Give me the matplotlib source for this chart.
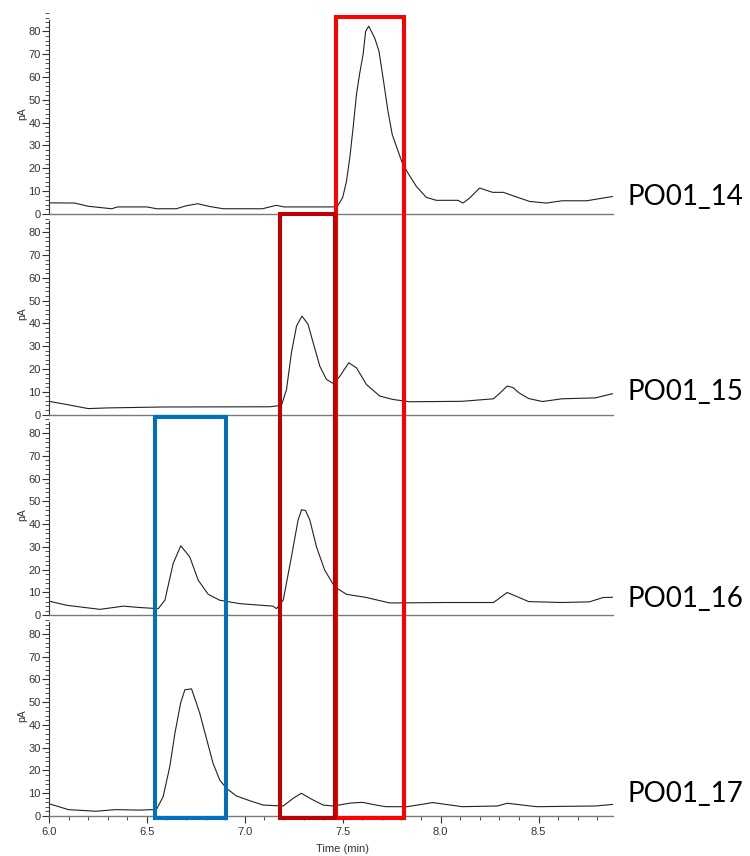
import matplotlib.pyplot as plt
from matplotlib.patches import Rectangle
from matplotlib.ticker import MultipleLocator

# chromatogram traces (time in min, signal in pA)
t14 = [6.0, 6.13, 6.2, 6.32, 6.35, 6.5, 6.55, 6.65, 6.7, 6.76, 6.82, 6.89, 7.09, 7.16,
       7.2, 7.45, 7.476, 7.50, 7.519, 7.536, 7.553, 7.57, 7.587, 7.604, 7.617, 7.633,
       7.663, 7.685, 7.706, 7.731, 7.753, 7.774, 7.804, 7.833, 7.876, 7.927, 7.978,
       8.088, 8.114, 8.148, 8.199, 8.265, 8.32, 8.4, 8.455, 8.54, 8.62, 8.745, 8.88]
s14 = [4.8, 4.7, 3.3, 2.2, 3.0, 3.0, 2.2, 2.2, 3.5, 4.4, 3.2, 2.2, 2.2, 3.7,
       3.0, 3.0, 3.7, 7.2, 14.2, 24.5, 37.7, 52.3, 61.8, 69.9, 80.1, 82.3,
       77.2, 71.4, 59.6, 45, 34.7, 29.6, 22.3, 17.9, 12, 7.2, 5.9,
       5.9, 4.7, 6.9, 11.3, 9.4, 9.4, 7.0, 5.4, 4.7, 5.7, 5.7, 7.6]

t15 = [6.0, 6.09, 6.2, 6.3, 6.58, 7.128, 7.187, 7.213, 7.238, 7.264, 7.292, 7.323,
       7.349, 7.383, 7.417, 7.454, 7.485, 7.531, 7.57, 7.621, 7.689, 7.757, 7.842,
       8.11, 8.27, 8.31, 8.34, 8.37, 8.4, 8.45, 8.52, 8.62, 8.79, 8.88]
s15 = [5.8, 4.4, 2.6, 2.9, 3.3, 3.4, 4.0, 11, 27.1, 38.8, 43.2, 39.6,
       31.5, 21.2, 15.4, 13.5, 16.8, 22.7, 20.5, 13.2, 8.1, 6.6, 5.6,
       5.8, 6.9, 10, 12.5, 11.8, 9.5, 7.0, 5.7, 6.9, 7.3, 9.2]

t16 = [6.0, 6.09, 6.26, 6.38, 6.464, 6.558, 6.592, 6.634, 6.673, 6.719, 6.762, 6.813,
       6.872, 6.974, 7.144, 7.162, 7.196, 7.238, 7.272, 7.29, 7.31, 7.332, 7.366,
       7.408, 7.459, 7.519, 7.621, 7.74, 8.03, 8.27, 8.34, 8.45, 8.62, 8.76, 8.83, 8.88]
s16 = [6.2, 4.4, 2.6, 4.0, 3.4, 2.9, 6.6, 22.7, 30.5, 25.6, 15.4, 9.2,
       6.6, 5.1, 4.0, 2.9, 6.6, 25.6, 41.8, 46.3, 46.0, 41.8, 30,
       19.8, 12.5, 9.2, 7.8, 5.4, 5.6, 5.6, 10, 6.0, 5.6, 5.9, 7.8, 7.9]

t17 = [6.0, 6.1, 6.24, 6.34, 6.464, 6.549, 6.583, 6.617, 6.643, 6.672, 6.694, 6.728,
       6.753, 6.770, 6.804, 6.838, 6.872, 6.906, 6.957, 7.026, 7.094, 7.196, 7.247,
       7.289, 7.332, 7.4, 7.451, 7.54, 7.6, 7.69, 7.72, 7.83, 7.96, 8.11, 8.29, 8.34,
       8.49, 8.79, 8.88]
s17 = [5.4, 2.8, 2.1, 2.8, 2.6, 2.9, 8.5, 21.7, 36.3, 49.5, 55.4, 55.8,
       49.5, 45.1, 34.1, 23.1, 15.8, 12.2, 8.8, 6.7, 4.8, 4.4, 7.8,
       10, 7.8, 4.8, 4.4, 5.7, 6.0, 4.5, 4.1, 4.1, 5.9, 4.1, 4.4, 5.6,
       4.1, 4.4, 5.1]

times = [t14, t15, t16, t17]
signals = [s14, s15, s16, s17]
names = ["PO01_14", "PO01_15", "PO01_16", "PO01_17"]
name_y = [7.5, 10, 7, 9.7]

# highlight boxes: start/end time, panel + pA value where the top edge sits, colour
box_t0 = [7.465, 7.180, 6.539]
box_t1 = [7.815, 7.461, 6.903]
box_top_panel = [0, 0, 1]
box_top_val = [86.2, 0.0, -1.0]
box_colors = ["#FF0000", "#C00000", "#0070C0"]

tick_font = "Liberation Sans"

fig, axes = plt.subplots(4, 1, sharex=True, figsize=(7.5, 8.56), dpi=100)
fig.subplots_adjust(left=0.0653, right=0.8173, bottom=0.0467, top=0.9848, hspace=0)

for i, ax in enumerate(axes):
    ax.patch.set_visible(False)
    ax.plot(times[i], signals[i], color="#222222", lw=0.8)
    ax.set_xlim(6.0, 8.88)
    ax.set_ylim(0, 88.1)
    ax.spines["top"].set_visible(False)
    ax.spines["right"].set_visible(False)
    ax.spines["left"].set_bounds(0, 85)
    ax.spines["left"].set_color("#333333")
    ax.spines["bottom"].set_color("#7a7a7a")
    ax.spines["left"].set_linewidth(0.8)
    ax.spines["bottom"].set_linewidth(1.0)
    ax.yaxis.set_minor_locator(MultipleLocator(2))
    ax.set_yticks(range(0, 90, 10))
    ax.tick_params(axis="y", which="major", length=5, width=0.8, labelsize=8,
                   colors="#333333", pad=1)
    ax.tick_params(axis="y", which="minor", length=3, width=0.6, colors="#333333")
    for lab in ax.get_yticklabels():
        lab.set_family(tick_font)
    ax.set_ylabel("pA", fontsize=7.5, color="#333333", labelpad=1, family=tick_font)
    ax.text(1.025, name_y[i], names[i], transform=ax.get_yaxis_transform(), fontsize=20,
            family="Lato", va="center", ha="left", color="black")
    if i < 3:
        ax.tick_params(axis="x", which="both", bottom=False, labelbottom=False)

axb = axes[-1]
axb.xaxis.set_minor_locator(MultipleLocator(0.1))
axb.set_xticks([6.0, 6.5, 7.0, 7.5, 8.0, 8.5])
axb.set_xticklabels(["6.0", "6.5", "7.0", "7.5", "8.0", "8.5"], family=tick_font)
axb.tick_params(axis="x", which="major", length=5, width=0.8, labelsize=8,
                colors="#333333", pad=3)
axb.tick_params(axis="x", which="minor", length=3, width=0.6, colors="#333333")
axb.set_xlabel("Time (min)", fontsize=8, color="#333333", family=tick_font)
axb.xaxis.set_label_coords(0.52, -0.14)

# boxes drawn across panels in figure coordinates
inv = fig.transFigure.inverted()
for k in range(3):
    top_ax = axes[box_top_panel[k]]
    x0, y1 = inv.transform(top_ax.transData.transform((box_t0[k], box_top_val[k])))
    x1, y0 = inv.transform(axb.transData.transform((box_t1[k], -1.0)))
    fig.patches.append(Rectangle((x0, y0), x1 - x0, y1 - y0, fill=False,
                                 edgecolor=box_colors[k], lw=2.9,
                                 transform=fig.transFigure, figure=fig, zorder=5 + k))

plt.savefig("out.png", dpi=100)
